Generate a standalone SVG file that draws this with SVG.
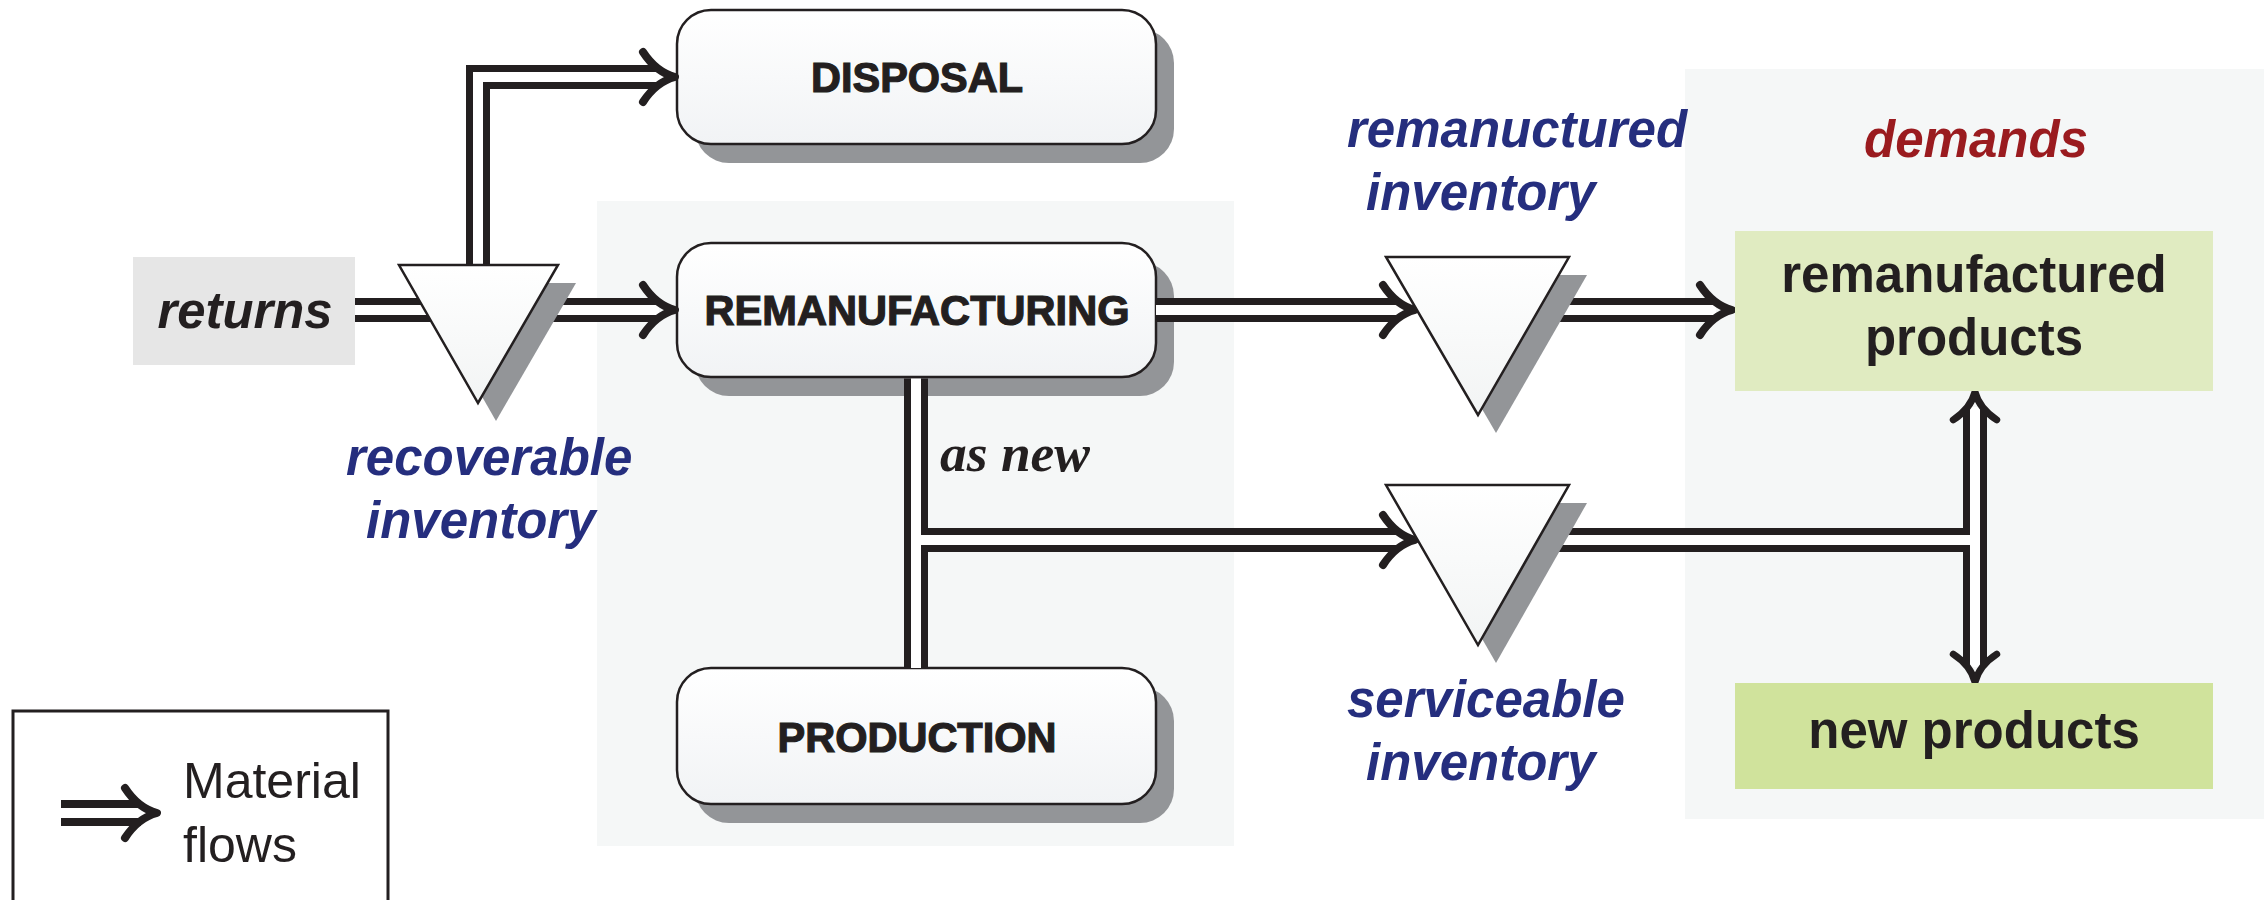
<svg xmlns="http://www.w3.org/2000/svg" width="2264" height="900" viewBox="0 0 2264 900">
<style>
.panel{fill:#f5f7f7}
.shadow{fill:#939598}
.box{fill:url(#boxg);stroke:#231f20;stroke-width:2.5}
.tri{fill:url(#trig);stroke:#231f20;stroke-width:2.5;stroke-linejoin:miter}
.ob{fill:none;stroke:#231f20;stroke-width:24}
.iw{fill:none;stroke:#ffffff;stroke-width:10}
.chev{fill:none;stroke:#231f20;stroke-width:8;stroke-linecap:round;stroke-linejoin:round}
.boxlbl{font-family:"Liberation Sans",Arial,sans-serif;font-weight:bold;font-size:42px;fill:#231f20;stroke:#231f20;stroke-width:1.2;text-anchor:middle}
.inv{font-family:"Liberation Sans",Arial,sans-serif;font-weight:bold;font-style:italic;font-size:51px;fill:#252e7e}
.dem{font-family:"Liberation Sans",Arial,sans-serif;font-weight:bold;font-size:51px;fill:#231f20;text-anchor:middle}
</style>
<defs>
<linearGradient id="boxg" x1="0" y1="0" x2="0" y2="1">
<stop offset="0" stop-color="#ffffff"/>
<stop offset="1" stop-color="#f1f3f5"/>
</linearGradient>
<linearGradient id="trig" x1="0" y1="0" x2="0" y2="1">
<stop offset="0" stop-color="#ffffff"/>
<stop offset="1" stop-color="#f2f4f4"/>
</linearGradient>
<path id="chev" class="chev" d="M-32,-25 Q-19,-5 0,0 Q-19,5 -32,25"/>
</defs>
<rect width="2264" height="900" fill="#ffffff"/>
<g id="panels">
<rect class="panel" x="597" y="201" width="637" height="645"/>
<rect class="panel" x="1685" y="69" width="579" height="750"/>
</g>
<g id="returns">
<rect x="133" y="257" width="222" height="108" fill="#e6e6e6"/>
<text x="245" y="328" font-family="Liberation Sans, Arial, sans-serif" font-weight="bold" font-style="italic" font-size="52" fill="#231f20" text-anchor="middle" textLength="175" lengthAdjust="spacingAndGlyphs">returns</text>
</g>
<g id="disposal">
<rect class="shadow" x="695" y="29" width="479" height="134" rx="34"/>
<rect class="box" x="677" y="10" width="479" height="134" rx="34"/>
<text class="boxlbl" x="917" y="92" textLength="212" lengthAdjust="spacingAndGlyphs">DISPOSAL</text>
</g>
<g id="remanufacturing">
<rect class="shadow" x="695" y="262" width="479" height="134" rx="34"/>
<rect class="box" x="677" y="243" width="479" height="134" rx="34"/>
<text class="boxlbl" x="917" y="325" textLength="425" lengthAdjust="spacingAndGlyphs">REMANUFACTURING</text>
</g>
<g id="production">
<rect class="shadow" x="695" y="687" width="479" height="136" rx="34"/>
<rect class="box" x="677" y="668" width="479" height="136" rx="34"/>
<text class="boxlbl" x="917" y="752" textLength="279" lengthAdjust="spacingAndGlyphs">PRODUCTION</text>
</g>
<g id="connectors">
<path class="ob" d="M355,310 H659"/>
<path class="iw" d="M355,310 H659"/>
<use href="#chev" transform="translate(675,310)"/>
<path class="ob" d="M478,275 V77 H659"/>
<path class="iw" d="M478,275 V77 H659"/>
<use href="#chev" transform="translate(675,77)"/>
<path class="ob" d="M1156,310 H1399"/>
<path class="iw" d="M1156,310 H1399"/>
<use href="#chev" transform="translate(1415,310)"/>
<path class="ob" d="M1530,310 H1716"/>
<path class="iw" d="M1530,310 H1716"/>
<use href="#chev" transform="translate(1732,310)"/>
<path class="ob" d="M916,378.5 V668"/>
<path class="ob" d="M916,540 H1399"/>
<path class="iw" d="M916,378.5 V668"/>
<path class="iw" d="M916,540 H1399"/>
<use href="#chev" transform="translate(1415,540)"/>
<path class="ob" d="M1975,407 V667"/>
<path class="ob" d="M1530,540 H1987"/>
<path class="iw" d="M1975,407 V667"/>
<path class="iw" d="M1530,540 H1975"/>
<use href="#chev" transform="translate(1975,392) rotate(-90) scale(0.87)"/>
<use href="#chev" transform="translate(1975,682) rotate(90) scale(0.87)"/>
</g>
<g id="recoverable-inventory">
<polygon class="shadow" points="417,283 576,283 496,421"/>
<polygon class="tri" points="399,265 558,265 478,403"/>
<text class="inv" x="346" y="475">recoverable</text>
<text class="inv" x="366" y="538">inventory</text>
</g>
<g id="remanufactured-inventory">
<polygon class="shadow" points="1404,275 1587,275 1496,433"/>
<polygon class="tri" points="1386,257 1569,257 1478,415"/>
<text class="inv" x="1347" y="147">remanuctured</text>
<text class="inv" x="1366" y="210">inventory</text>
</g>
<g id="serviceable-inventory">
<polygon class="shadow" points="1404,503 1587,503 1496,663"/>
<polygon class="tri" points="1386,485 1569,485 1478,645"/>
<text class="inv" x="1347" y="717">serviceable</text>
<text class="inv" x="1366" y="780">inventory</text>
</g>
<g id="as-new">
<text x="940" y="471" font-family="Liberation Serif, Times New Roman, serif" font-weight="bold" font-style="italic" font-size="52" fill="#231f20" textLength="150" lengthAdjust="spacingAndGlyphs">as new</text>
</g>
<g id="demands">
<text x="1976" y="157" font-family="Liberation Sans, Arial, sans-serif" font-weight="bold" font-style="italic" font-size="51" fill="#9a1b1f" text-anchor="middle">demands</text>
</g>
<g id="remanufactured-products">
<rect x="1735" y="231" width="478" height="160" fill="#e0ebc1"/>
<text class="dem" x="1974" y="292">remanufactured</text>
<text class="dem" x="1974" y="355">products</text>
</g>
<g id="new-products">
<rect x="1735" y="683" width="478" height="106" fill="#d0e39c"/>
<text class="dem" x="1974" y="748">new products</text>
</g>
<g id="legend">
<rect x="13" y="711" width="375" height="200" fill="#ffffff" stroke="#231f20" stroke-width="3"/>
<path d="M61,813 H141" fill="none" stroke="#231f20" stroke-width="26"/>
<path d="M61,813 H141" fill="none" stroke="#ffffff" stroke-width="10"/>
<use href="#chev" transform="translate(157,813)"/>
<text x="183" y="798" font-family="Liberation Sans, Arial, sans-serif" font-size="50" fill="#231f20">Material</text>
<text x="183" y="862" font-family="Liberation Sans, Arial, sans-serif" font-size="50" fill="#231f20">flows</text>
</g>
</svg>
